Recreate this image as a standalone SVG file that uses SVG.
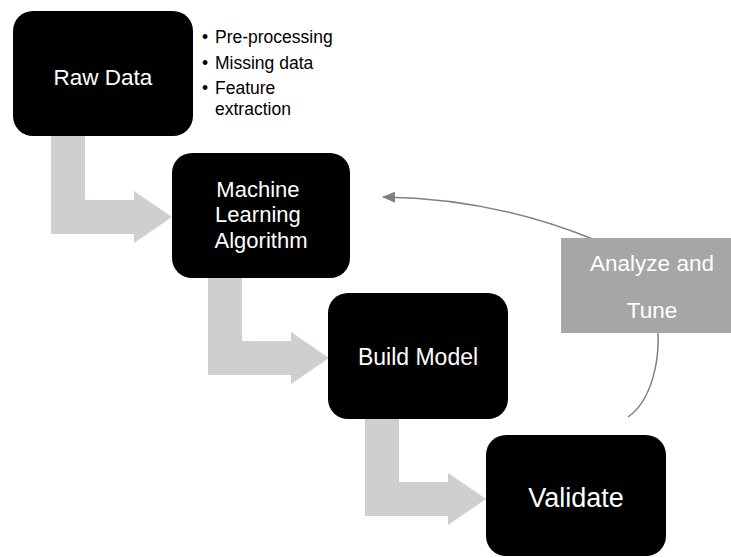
<svg xmlns="http://www.w3.org/2000/svg" width="731" height="558" viewBox="0 0 731 558">
  <style>
    .step { fill: #000000; }
    .flow { fill: #d0cece; }
    .label { fill: #ffffff; font-family: "Liberation Sans", Arial, sans-serif; text-anchor: middle; }
    .note { fill: #000000; font-family: "Liberation Sans", Arial, sans-serif; font-size: 17.5px; }
    .loop { fill: none; stroke: #808080; stroke-width: 1.5; }
  </style>
  <defs>
    <marker id="tip" viewBox="0 0 13 11" refX="12" refY="5.5" markerWidth="13" markerHeight="11" markerUnits="userSpaceOnUse" orient="auto">
      <path d="M0,0 L13,5.5 L0,11 Z" fill="#808080"/>
    </marker>
  </defs>

  <rect width="731" height="558" fill="#ffffff"/>

  <g id="connectors">
    <!-- bent block arrows between the steps -->
    <polygon class="flow" points="51,130 85,130 85,200 134,200 134,191 172,217 134,243 134,234 51,234"/>
    <polygon class="flow" points="208,271 242,271 242,341 291,341 291,332 329,358 291,384 291,375 208,375"/>
    <polygon class="flow" points="365,412 399,412 399,482 448,482 448,473 486,499 448,525 448,516 365,516"/>
    <!-- feedback loop from Validate back to the algorithm -->
    <path class="loop" marker-end="url(#tip)" d="M628,417 C650,402 662,362 657,320 C652,280 630,250 590,238 C540,218 470,198 383,197"/>
  </g>

  <g id="raw-data">
    <rect class="step" x="13" y="11" width="180" height="125" rx="20"/>
    <text class="label" x="103" y="85" font-size="22.5">Raw Data</text>
  </g>

  <g id="raw-data-notes">
    <text class="note" x="202" y="43">•</text>
    <text class="note" x="215" y="43">Pre-processing</text>
    <text class="note" x="202" y="69">•</text>
    <text class="note" x="215" y="69">Missing data</text>
    <text class="note" x="202" y="94">•</text>
    <text class="note" x="215" y="94">Feature</text>
    <text class="note" x="215" y="115">extraction</text>
  </g>

  <g id="ml-algorithm">
    <rect class="step" x="172" y="153" width="178" height="125" rx="20"/>
    <text class="label" font-size="22">
      <tspan x="261" y="197">Machine</tspan>
      <tspan x="261" y="222">Learning</tspan>
      <tspan x="261" y="248">Algorithm</tspan>
    </text>
  </g>

  <g id="build-model">
    <rect class="step" x="328" y="293" width="180" height="126" rx="20"/>
    <text class="label" x="418" y="365" font-size="23">Build Model</text>
  </g>

  <g id="validate">
    <rect class="step" x="486" y="435" width="180" height="121" rx="20"/>
    <text class="label" x="576" y="507" font-size="27">Validate</text>
  </g>

  <g id="analyze-tune">
    <rect x="561" y="238" width="182" height="95" fill="#a6a6a6"/>
    <text class="label" x="652" y="271" font-size="22.5">Analyze and</text>
    <text class="label" x="652" y="318" font-size="22.5">Tune</text>
  </g>
</svg>
